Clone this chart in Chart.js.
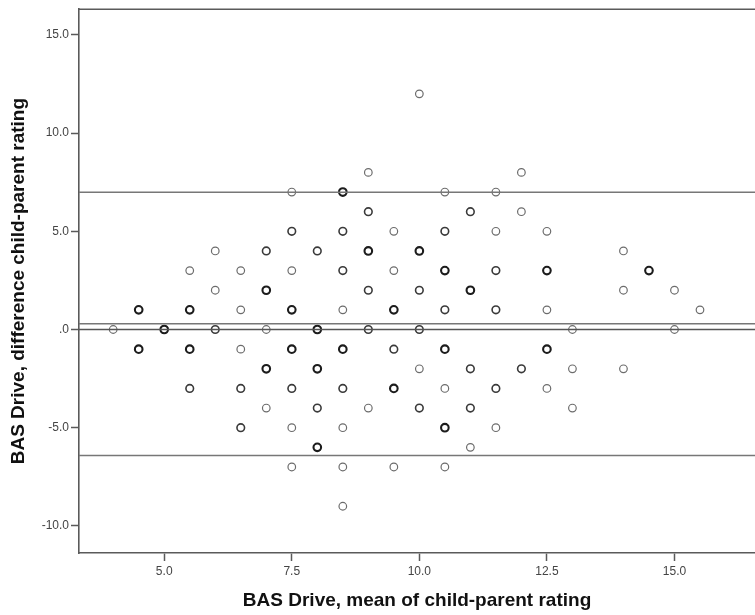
<!DOCTYPE html>
<html>
<head>
<meta charset="utf-8">
<script src="https://cdn.jsdelivr.net/npm/chart.js@4.4.1/dist/chart.umd.min.js"></script>
<style>
  html, body { margin: 0; padding: 0; background: #fff; overflow: hidden; }
  #wrap { width: 761px; height: 615px; position: relative; }
</style>
</head>
<body>
<div id="wrap"><canvas id="grafico"></canvas></div>
<script>
// Medias (eje x) y diferencias (eje y) por punto; "veces" = puntos superpuestos.
const medias = [
    4.0,
    4.5, 4.5,
    5.0,
    5.5, 5.5, 5.5, 5.5,
    6.0, 6.0, 6.0,
    6.5, 6.5, 6.5, 6.5, 6.5,
    7.0, 7.0, 7.0, 7.0, 7.0,
    7.5, 7.5, 7.5, 7.5, 7.5, 7.5, 7.5, 7.5,
    8.0, 8.0, 8.0, 8.0, 8.0,
    8.5, 8.5, 8.5, 8.5, 8.5, 8.5, 8.5, 8.5, 8.5,
    9.0, 9.0, 9.0, 9.0, 9.0, 9.0,
    9.5, 9.5, 9.5, 9.5, 9.5, 9.5,
    10.0, 10.0, 10.0, 10.0, 10.0, 10.0,
    10.5, 10.5, 10.5, 10.5, 10.5, 10.5, 10.5, 10.5,
    11.0, 11.0, 11.0, 11.0, 11.0,
    11.5, 11.5, 11.5, 11.5, 11.5, 11.5,
    12.0, 12.0, 12.0,
    12.5, 12.5, 12.5, 12.5, 12.5,
    13.0, 13.0, 13.0,
    14.0, 14.0, 14.0,
    14.5,
    15.0, 15.0,
    15.5,
];
const diferencias = [
    0,
    1, -1,
    0,
    3, 1, -1, -3,
    4, 2, 0,
    3, 1, -1, -3, -5,
    4, 2, 0, -2, -4,
    7, 5, 3, 1, -1, -3, -5, -7,
    4, 0, -2, -4, -6,
    7, 5, 3, 1, -1, -3, -5, -7, -9,
    8, 6, 4, 2, 0, -4,
    5, 3, 1, -1, -3, -7,
    12, 4, 2, 0, -2, -4,
    7, 5, 3, 1, -1, -3, -5, -7,
    6, 2, -2, -4, -6,
    7, 5, 3, 1, -3, -5,
    8, 6, -2,
    5, 3, 1, -1, -3,
    0, -2, -4,
    4, 2, -2,
    3,
    2, 0,
    1,
];
const veces = [
    1,
    3, 3,
    3,
    1, 3, 3, 2,
    1, 1, 2,
    1, 1, 1, 2, 2,
    2, 3, 1, 3, 1,
    1, 2, 1, 3, 3, 2, 1, 1,
    2, 3, 3, 2, 3,
    3, 2, 2, 1, 3, 2, 1, 1, 1,
    1, 2, 3, 2, 2, 1,
    1, 1, 3, 2, 3, 1,
    1, 3, 2, 2, 1, 2,
    1, 2, 3, 2, 3, 1, 3, 1,
    2, 3, 2, 2, 1,
    1, 1, 2, 2, 2, 1,
    1, 1, 2,
    1, 3, 1, 3, 1,
    1, 1, 1,
    1, 1, 1,
    3,
    1, 1,
    1,
];

// Líneas de referencia: media de la diferencia, límites de acuerdo y cero.
const mediaDif = 0.29;
const limiteSup = 6.99;
const limiteInf = -6.41;
const cero = 0;

const ticksX = [5, 7.5, 10, 12.5, 15];
const ticksY = [-10, -5, 0, 5, 10, 15];

const X_MIN = 3.33;
const X_MAX = 16.58;
const Y_MIN = -11.38;
const Y_MAX = 16.31;

const GRIS_EJE = '#5a5a5a';
const COLOR_PUNTO = { 1: '#6c6c6c', 2: '#3a3a3a', 3: '#1c1c1c' };
const ANCHO_PUNTO = { 1: 1.2, 2: 1.6, 3: 2.1 };

const puntos = medias.map((m, i) => ({ x: m, y: diferencias[i] }));

function linea(valor, color) {
    return {
        type: 'line',
        data: [{ x: X_MIN, y: valor }, { x: X_MAX, y: valor }],
        borderColor: color,
        borderWidth: 1.5,
        pointRadius: 0,
        fill: false,
    };
}

const fmt = (v) => (v === 0 ? '.0' : v.toFixed(1));

// Línea superior del marco (el lado derecho queda fuera de la imagen).
const marcoSuperior = {
    id: 'marcoSuperior',
    afterDraw(chart) {
        const { ctx, chartArea } = chart;
        ctx.save();
        ctx.strokeStyle = GRIS_EJE;
        ctx.lineWidth = 1.6;
        ctx.beginPath();
        ctx.moveTo(chartArea.left, chartArea.top);
        ctx.lineTo(chartArea.right, chartArea.top);
        ctx.stroke();
        ctx.restore();
    },
};

new Chart(document.getElementById('grafico'), {
    type: 'scatter',
    data: {
        datasets: [
            linea(limiteSup, '#777'),
            linea(mediaDif, '#777'),
            linea(cero, '#555'),
            linea(limiteInf, '#777'),
            {
                data: puntos,
                pointStyle: 'circle',
                pointRadius: 3.8,
                pointHoverRadius: 3.8,
                backgroundColor: 'rgba(0,0,0,0)',
                borderColor: (c) => COLOR_PUNTO[veces[c.dataIndex]] || '#6c6c6c',
                borderWidth: (c) => ANCHO_PUNTO[veces[c.dataIndex]] || 1.2,
            },
        ],
    },
    options: {
        responsive: true,
        maintainAspectRatio: false,
        animation: false,
        devicePixelRatio: 1,
        layout: { padding: { top: 9, right: 0, bottom: 0, left: 0 } },
        plugins: { legend: { display: false }, tooltip: { enabled: false } },
        events: [],
        scales: {
            x: {
                type: 'linear',
                min: X_MIN,
                max: X_MAX,
                afterBuildTicks: (s) => { s.ticks = ticksX.map((v) => ({ value: v })); },
                afterFit: (s) => { s.height = 62; },
                grid: { drawOnChartArea: false, drawTicks: true, tickLength: 8, tickColor: GRIS_EJE, tickWidth: 1.5 },
                border: { display: true, color: GRIS_EJE, width: 1.6 },
                ticks: {
                    callback: (v) => fmt(v),
                    color: '#444',
                    font: { family: 'Liberation Sans, Arial, sans-serif', size: 12 },
                    padding: 3,
                    maxRotation: 0,
                    autoSkip: false,
                },
                title: {
                    display: true,
                    text: 'BAS Drive, mean of child-parent rating',
                    color: '#111',
                    font: { family: 'Liberation Sans, Arial, sans-serif', size: 19, weight: 'bold' },
                    padding: { top: 0, bottom: 3 },
                },
            },
            y: {
                type: 'linear',
                min: Y_MIN,
                max: Y_MAX,
                afterBuildTicks: (s) => { s.ticks = ticksY.map((v) => ({ value: v })); },
                afterFit: (s) => { s.width = 79; },
                grid: { drawOnChartArea: false, drawTicks: true, tickLength: 8, tickColor: GRIS_EJE, tickWidth: 1.5 },
                border: { display: true, color: GRIS_EJE, width: 1.6 },
                ticks: {
                    callback: (v) => fmt(v),
                    color: '#444',
                    font: { family: 'Liberation Sans, Arial, sans-serif', size: 12 },
                    padding: 2,
                    autoSkip: false,
                },
                title: {
                    display: true,
                    text: 'BAS Drive, difference child-parent rating',
                    color: '#111',
                    font: { family: 'Liberation Sans, Arial, sans-serif', size: 19, weight: 'bold' },
                    padding: { top: 7, bottom: 0 },
                },
            },
        },
    },
    plugins: [marcoSuperior],
});
</script>
</body>
</html>
